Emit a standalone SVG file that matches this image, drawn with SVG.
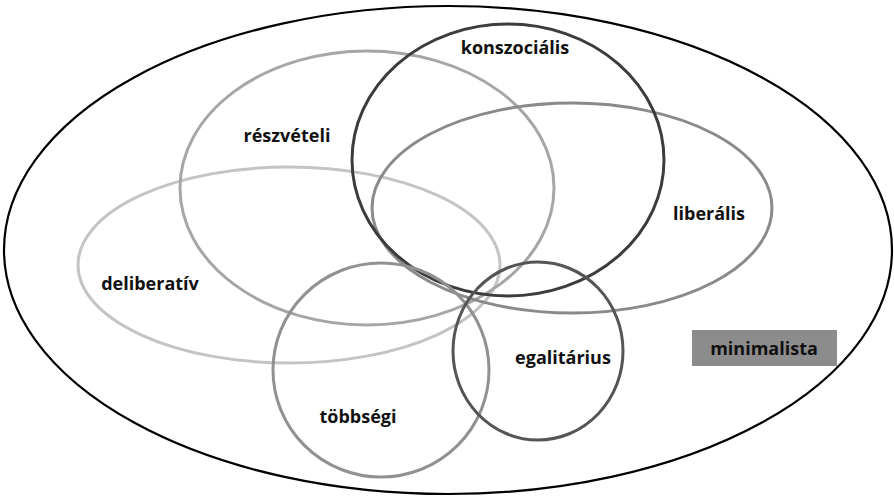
<svg xmlns="http://www.w3.org/2000/svg" width="894" height="501" viewBox="0 0 894 501">
<style>
.t{font-family:"Open Sans","Liberation Sans",sans-serif;font-weight:bold;font-size:18px;fill:#111;text-anchor:middle;dominant-baseline:central}
.e{fill:none;stroke-width:3}
</style>
<rect width="894" height="501" fill="#fff"/>
<g id="outer"><ellipse cx="448" cy="250" rx="444" ry="244" fill="none" stroke="#000" stroke-width="2.2"/></g>
<g id="deliberativ"><ellipse class="e" cx="289" cy="265" rx="211" ry="98" stroke="#c4c4c4"/><text class="t" x="150" y="283">deliberatív</text></g>
<g id="reszveteli"><ellipse class="e" cx="367" cy="188" rx="187" ry="137" stroke="#a6a6a6"/><text class="t" x="287" y="135">részvételi</text></g>
<g id="liberalis"><ellipse class="e" cx="572" cy="208" rx="200" ry="105" stroke="#8a8a8a"/><text class="t" x="709" y="213">liberális</text></g>
<g id="konszocialis"><ellipse class="e" cx="508" cy="160" rx="156" ry="136" stroke="#3c3c3c"/><text class="t" x="515" y="47">konszociális</text></g>
<g id="tobbsegi"><ellipse class="e" cx="381" cy="370" rx="108" ry="107" stroke="#919191"/><text class="t" x="358" y="416">többségi</text></g>
<g id="egalitarius"><ellipse class="e" cx="538" cy="351" rx="85" ry="89" stroke="#555"/><text class="t" x="563" y="357">egalitárius</text></g>
<g id="minimalista"><rect x="692" y="330" width="145" height="36" fill="#8c8c8c"/><text class="t" x="764" y="348">minimalista</text></g>
<g id="connectors"></g>
</svg>
